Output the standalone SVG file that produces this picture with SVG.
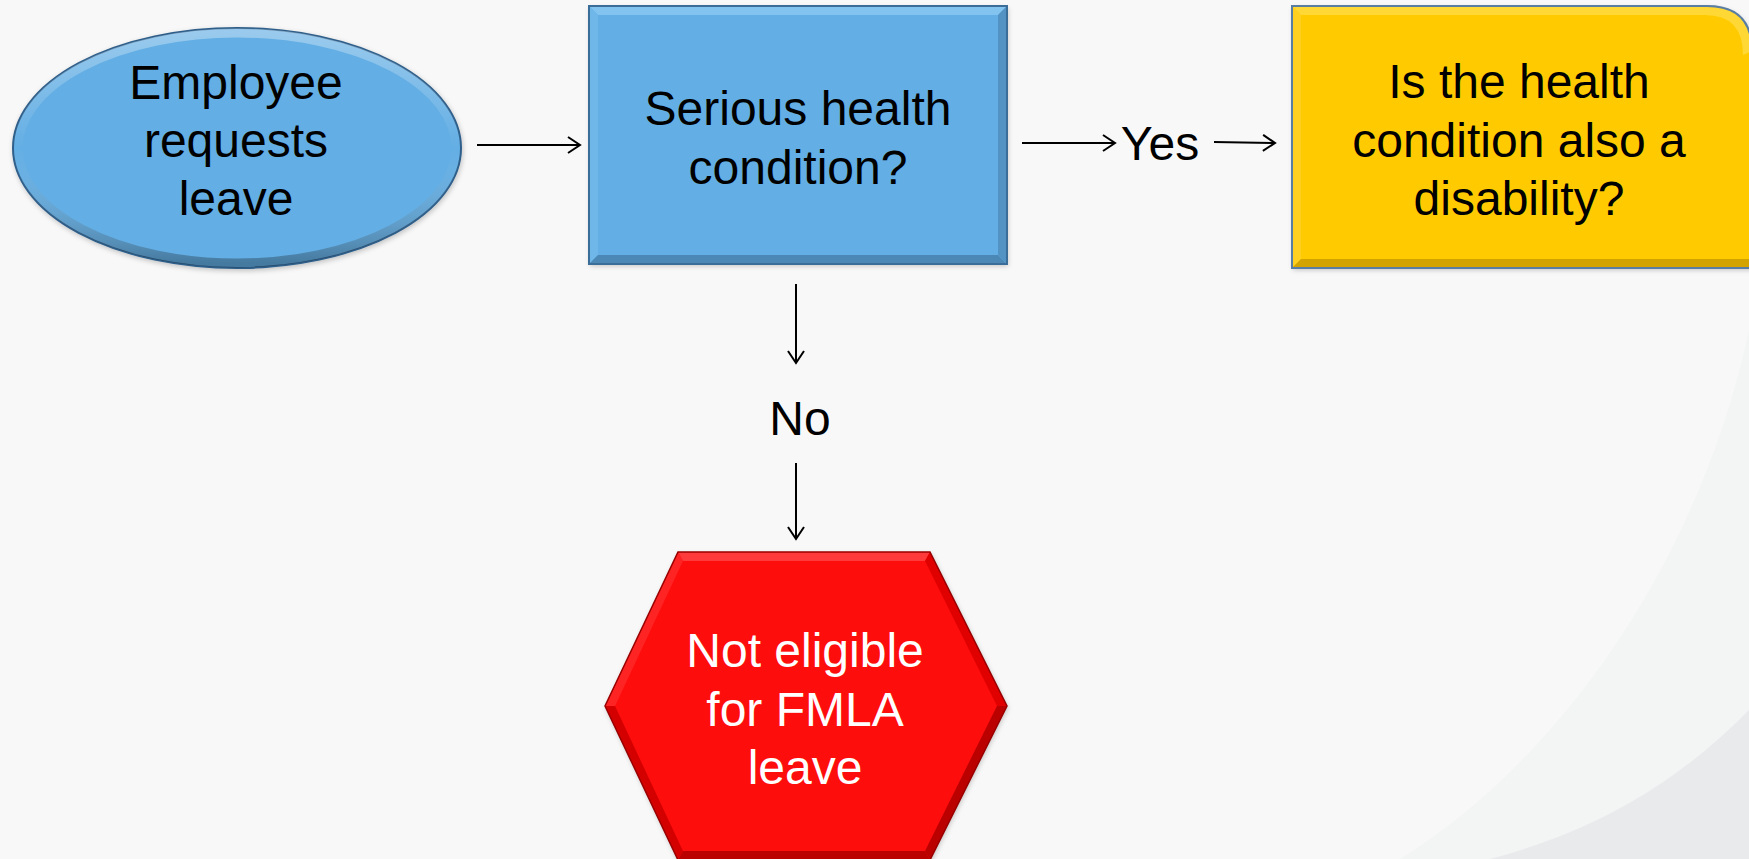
<svg xmlns="http://www.w3.org/2000/svg" width="1749" height="859" viewBox="0 0 1749 859">
<defs>
<style>
.t{font-family:"Liberation Sans",Arial,sans-serif;font-size:48px;text-anchor:middle;fill:#000}
.w{fill:#fff}
.c{stroke:#000;stroke-width:2;fill:none;marker-end:url(#ah)}
</style>
<marker id="ah" markerUnits="userSpaceOnUse" markerWidth="16" markerHeight="20" refX="13" refY="9" orient="auto">
<path d="M1,1 L13,9 L1,17" fill="none" stroke="#000" stroke-width="2"/>
</marker>
<linearGradient id="ring" x1="0" y1="0" x2="0" y2="1">
<stop offset="0" stop-color="#fff" stop-opacity="0.35"/>
<stop offset="0.5" stop-color="#fff" stop-opacity="0"/>
<stop offset="1" stop-color="#000" stop-opacity="0.3"/>
</linearGradient>
<filter id="sh" x="-10%" y="-10%" width="120%" height="120%">
<feDropShadow dx="1" dy="2" stdDeviation="2.5" flood-color="#000" flood-opacity="0.22"/>
</filter>
</defs>
<rect width="1749" height="859" fill="#f8f8f8"/>
<path d="M1749,330 C1700,560 1560,760 1400,859 L1749,859 Z" fill="#f3f4f4"/>
<path d="M1749,710 C1680,780 1600,830 1490,859 L1749,859 Z" fill="#e8eaec"/>

<g id="n-employee">
<ellipse cx="237" cy="148" rx="224" ry="120" fill="#63aee4" stroke="#2f5f8a" stroke-width="2" filter="url(#sh)"/>
<ellipse cx="237" cy="148" rx="219" ry="115" fill="none" stroke="url(#ring)" stroke-width="9"/>
<text class="t" x="236" y="99">Employee</text>
<text class="t" x="236" y="157">requests</text>
<text class="t" x="236" y="215">leave</text>
</g>

<g id="n-serious">
<rect x="589" y="6" width="418" height="258" fill="#63aee4" filter="url(#sh)"/>
<polygon points="589,6 1007,6 998,15 598,15" fill="#82c4ef"/>
<polygon points="589,6 598,15 598,255 589,264" fill="#70b7e9"/>
<polygon points="589,264 598,255 998,255 1007,264" fill="#4b88b6"/>
<polygon points="1007,6 1007,264 998,255 998,15" fill="#5293c4"/>
<rect x="589" y="6" width="418" height="258" fill="none" stroke="#3a6d98" stroke-width="2"/>
<text class="t" x="798" y="125">Serious health</text>
<text class="t" x="798" y="184">condition?</text>
</g>

<g id="n-disability">
<path d="M1292,6 H1707 Q1752,6 1752,51 V268 H1292 Z" fill="#ffcb05" filter="url(#sh)"/>
<path d="M1292,6 H1707 Q1752,6 1752,51 L1743,55 Q1743,15 1705,15 H1301 Z" fill="#ffd835"/>
<polygon points="1292,6 1301,15 1301,259 1292,268" fill="#ffd020"/>
<polygon points="1292,268 1301,259 1752,259 1752,268" fill="#d3a300"/>
<path d="M1292,6 H1707 Q1752,6 1752,51 V268 H1292 Z" fill="none" stroke="#5a7ea3" stroke-width="2"/>
<text class="t" x="1519" y="98">Is the health</text>
<text class="t" x="1519" y="157">condition also a</text>
<text class="t" x="1519" y="215">disability?</text>
</g>

<g id="n-not-eligible">
<polygon points="678,552 930,552 1007,706 930,860 678,860 605,706" fill="#fe0707" filter="url(#sh)"/>
<polygon points="678,552 930,552 925,561 683,561" fill="#ff3a3a"/>
<polygon points="678,552 683,561 615,706 605,706" fill="#ff2424"/>
<polygon points="605,706 615,706 683,851 678,860" fill="#d40000"/>
<polygon points="930,552 1007,706 997,706 925,561" fill="#e00000"/>
<polygon points="1007,706 930,860 925,851 997,706" fill="#bb0000"/>
<polygon points="678,860 683,851 925,851 930,860" fill="#bb0000"/>
<polygon points="678,552 930,552 1007,706 930,860 678,860 605,706" fill="none" stroke="#9a0000" stroke-width="1.5"/>
<text class="t w" x="805" y="667">Not eligible</text>
<text class="t w" x="805" y="726">for FMLA</text>
<text class="t w" x="805" y="784">leave</text>
</g>

<g id="connectors">
<line class="c" x1="477" y1="145" x2="580" y2="145"/>
<line class="c" x1="1022" y1="143" x2="1115" y2="143"/>
<text class="t" x="1160" y="160">Yes</text>
<line class="c" x1="1214" y1="142" x2="1275" y2="143"/>
<line class="c" x1="796" y1="284" x2="796" y2="363"/>
<text class="t" x="800" y="435">No</text>
<line class="c" x1="796" y1="463" x2="796" y2="539"/>
</g>
</svg>
